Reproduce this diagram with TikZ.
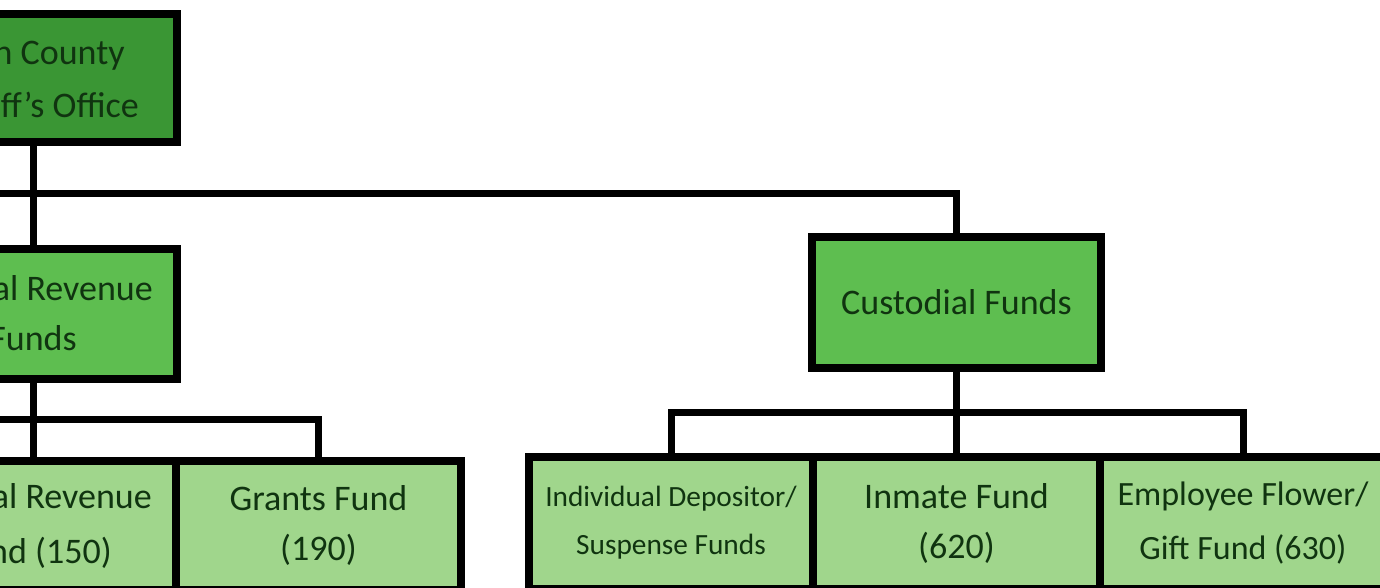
\documentclass[tikz,border=0pt]{standalone}
\usepackage{fontspec}
\setmainfont{Carlito}
\usetikzlibrary{calc}

\definecolor{topgreen}{RGB}{58,150,52}
\definecolor{midgreen}{RGB}{94,190,80}
\definecolor{lowgreen}{RGB}{160,214,140}
\definecolor{inkgreen}{RGB}{16,52,16}

\tikzset{
  fundbox/.style 2 args={draw=black, line width=6pt, rectangle, inner sep=0pt,
    minimum width=#1*0.75pt, minimum height=#2*0.75pt,
    text=inkgreen, align=center, font=\fontsize{27}{37.5}\selectfont},
  cuttext/.style={inner sep=0pt, text=inkgreen, font=\fontsize{27}{37.5}\selectfont},
  wire/.style={draw=black, line width=5.25pt, line join=miter},
}

\begin{document}
\begin{tikzpicture}[x=0.75pt,y=0.75pt,yscale=-1,xscale=1]
\useasboundingbox (0,0) rectangle (1380,588);
\clip (0,0) rectangle (1380,588);

%Shape: Rectangle [office]
\node (office) at (-61.5,78) [fundbox={477}{128}, fill=topgreen] {};
% Text Node
\node (officeA) at (125,65) [cuttext, anchor=base east] {n County};
% Text Node
\node (officeB) at (139,118) [cuttext, anchor=base east] {ff’s Office};

%Shape: Rectangle [special]
\node (special) at (-61.5,314) [fundbox={477}{130}, fill=midgreen] {};
% Text Node
\node (specialA) at (153,300) [cuttext, anchor=base east] {al Revenue};
% Text Node
\node (specialB) at (77,350) [cuttext, anchor=base east] {Funds};

%Shape: Rectangle [custodial]
\node (custodial) at (956.5,302.5) [fundbox={289}{131}, fill=midgreen] {Custodial Funds};

%Shape: Rectangle [revfund]
\node (revfund) at (-62,525.5) [fundbox={476}{129}, fill=lowgreen] {};
% Text Node
\node (revfundA) at (152,508) [cuttext, anchor=base east] {al Revenue};
% Text Node
\node (revfundB) at (112,563) [cuttext, anchor=base east] {nd (150)};

%Shape: Rectangle [grants]
\node (grants) at (318.5,525.5) [fundbox={285}{129}, fill=lowgreen] {Grants Fund\\(190)};

%Shape: Rectangle [depositor]
\node (depositor) at (671,523) [fundbox={284}{132}, fill=lowgreen, font=\fontsize{22}{36}\selectfont] {Individual Depositor/\\Suspense Funds};
%Shape: Rectangle [inmate]
\node (inmate) at (956.5,523) [fundbox={287}{132}, fill=lowgreen] {Inmate Fund\\(620)};
%Shape: Rectangle [flower]
\node (flower) at (1243,523) [fundbox={286}{132}, fill=lowgreen, font=\fontsize{25.5}{40}\selectfont] {Employee Flower/\\Gift Fund (630)};

% Connection
\coordinate (trunk) at (33,193);
\coordinate (westbus) at (-300,193);
\coordinate (westbusB) at (-300,419);
\draw [wire] (office.south -| trunk) -- (special.north -| trunk);
\draw [wire] (special.south -| trunk) -- (revfund.north -| trunk);
\draw [wire] (westbus) -| (custodial.north);
\draw [wire] (westbusB) -| (grants.north);
\draw [wire] (custodial.south) -- (inmate.north);
\draw [wire] (depositor.north) |- ($(custodial.south)!0.5!(inmate.north)$) -| (flower.north);

\end{tikzpicture}
\end{document}
